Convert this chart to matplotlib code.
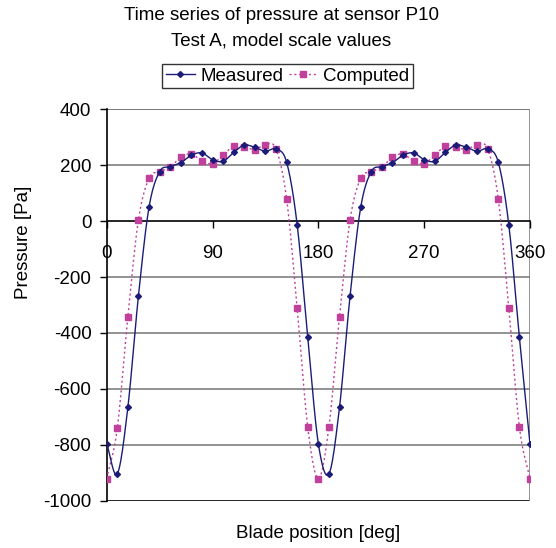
import numpy as np
import matplotlib
matplotlib.use('Agg')
import matplotlib.pyplot as plt

plt.rcParams['font.family'] = ['Liberation Sans', 'DejaVu Sans']
plt.rcParams['axes.unicode_minus'] = False

# Posicion de la pala (grados) y presiones
grados = [0, 9, 18, 27, 36, 45, 54, 63, 72, 81, 90, 99, 108, 117, 126, 135, 144,
          153, 162, 171, 180, 189, 198, 207, 216, 225, 234, 243, 252, 261, 270,
          279, 288, 297, 306, 315, 324, 333, 342, 351, 360]

medido = [-796, -904, -666, -267, 50, 177, 195, 209, 236, 244, 220, 214, 246,
          272, 264, 250, 258, 211, -13, -416, -796, -904, -666, -267, 49, 177,
          195, 209, 236, 244, 220, 214, 246, 272, 264, 250, 258, 211, -13, -416,
          -796]

calculado = [-921, -741, -342, 5, 153, 177, 193, 229, 240, 215, 206, 236, 269,
             266, 256, 274, 258, 81, -311, -737, -921, -737, -342, 5, 153, 177,
             193, 229, 240, 215, 206, 236, 269, 266, 256, 274, 258, 81, -311,
             -737, -921]

ticks_x = [0, 90, 180, 270, 360]
ticks_y = [400, 200, 0, -200, -400, -600, -800, -1000]

AZUL = '#1c1c78'
MAGENTA = '#c0409c'
FS = 13.5


def suavizar(x, y, n=12):
    """Curva tipo Catmull-Rom por los puntos (como el suavizado de Excel)."""
    x = np.asarray(x, float)
    y = np.asarray(y, float)
    px = np.concatenate([[2 * x[0] - x[1]], x, [2 * x[-1] - x[-2]]])
    py = np.concatenate([[2 * y[0] - y[1]], y, [2 * y[-1] - y[-2]]])
    xs, ys = [], []
    t = np.linspace(0, 1, n, endpoint=False)
    for i in range(1, len(px) - 2):
        for arr, out in ((px, xs), (py, ys)):
            p0, p1, p2, p3 = arr[i - 1], arr[i], arr[i + 1], arr[i + 2]
            out.extend(0.5 * ((2 * p1) + (-p0 + p2) * t
                              + (2 * p0 - 5 * p1 + 4 * p2 - p3) * t ** 2
                              + (-p0 + 3 * p1 - 3 * p2 + p3) * t ** 3))
    xs.append(x[-1])
    ys.append(y[-1])
    return np.array(xs), np.array(ys)


fig = plt.figure(figsize=(5.56, 5.48), dpi=100)
ax = fig.add_axes([0.1919, 0.0863, 0.7613, 0.7142])

ax.set_xlim(0, 360)
ax.set_ylim(-1000, 400)

# Rejilla horizontal
for v in ticks_y:
    if v not in (0, 400, -1000):
        ax.axhline(v, color='#808080', lw=1.2, zorder=1)
ax.axhline(400, color='#606060', lw=1.2, zorder=1)
ax.axhline(-1000, color='black', lw=1.2, zorder=1)

xs, ys = suavizar(grados, calculado)
ax.plot(xs, ys, color=MAGENTA, lw=1.0, ls=(0, (1.5, 2)), zorder=3)
ax.plot(grados, calculado, ls='none', marker='s', ms=4.5, color=MAGENTA,
        zorder=4)
xs, ys = suavizar(grados, medido)
ax.plot(xs, ys, color=AZUL, lw=1.0, zorder=5)
ax.plot(grados, medido, ls='none', marker='D', ms=3, color=AZUL, zorder=6)

# Entradas de leyenda
ax.plot([], [], color=AZUL, lw=1.0, marker='D', ms=3, label='Measured')
ax.plot([], [], color=MAGENTA, lw=1.0, ls=(0, (1.5, 2)), marker='s', ms=4.5,
        label='Computed')

for lado in ('top', 'right'):
    ax.spines[lado].set_visible(False)
ax.axvline(360, color='#808080', lw=1.2, zorder=1)
ax.spines['left'].set_color('black')
ax.spines['left'].set_linewidth(1.2)
ax.spines['bottom'].set_position(('data', 0))
ax.spines['bottom'].set_color('black')
ax.spines['bottom'].set_linewidth(1.2)

ax.set_xticks(ticks_x)
ax.set_xticklabels([str(v) for v in ticks_x])
ax.set_yticks(ticks_y)
ax.tick_params(axis='x', direction='out', length=5, width=1, pad=12,
               labelsize=FS)
ax.tick_params(axis='y', direction='out', length=5, width=1, pad=6,
               labelsize=FS)

fig.text(0.506, 0.972, 'Time series of pressure at sensor P10', ha='center',
         va='center', fontsize=FS)
fig.text(0.506, 0.926, 'Test A, model scale values', ha='center',
         va='center', fontsize=FS)
fig.text(0.572, 0.027, 'Blade position [deg]', ha='center', va='center',
         fontsize=FS)
fig.text(0.042, 0.557, 'Pressure [Pa]', ha='center', va='center',
         rotation=90, fontsize=FS)

leg = fig.legend(loc='center', bbox_to_anchor=(0.517, 0.861), ncol=2,
                 fontsize=FS, frameon=True, fancybox=False, edgecolor='black',
                 handlelength=1.55, handletextpad=0.27, columnspacing=0.3,
                 borderpad=0.2, borderaxespad=0)
leg.get_frame().set_linewidth(1.0)

fig.savefig('out.png', dpi=100)
